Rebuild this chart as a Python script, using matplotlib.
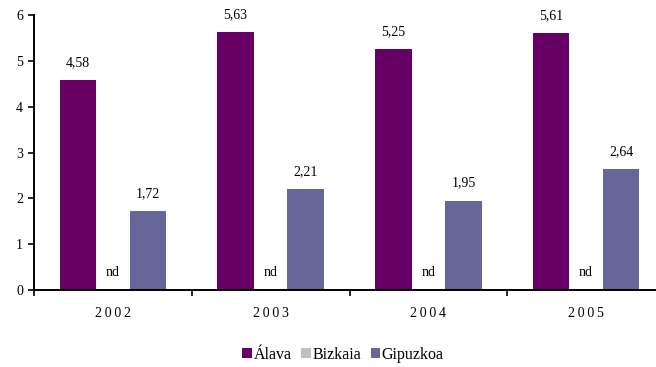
import matplotlib
matplotlib.use("Agg")
import matplotlib.pyplot as plt
import numpy as np

years = ["2002", "2003", "2004", "2005"]
alava = [4.58, 5.63, 5.25, 5.61]
bizkaia = [0, 0, 0, 0]
gipuzkoa = [1.72, 2.21, 1.95, 2.64]
alava_labels = ["4,58", "5,63", "5,25", "5,61"]
gipuzkoa_labels = ["1,72", "2,21", "1,95", "2,64"]
bizkaia_labels = ["nd", "nd", "nd", "nd"]
series_names = ["Álava", "Bizkaia", "Gipuzkoa"]
colors = ["#660066", "#C0C0C0", "#666699"]

plt.rcParams['font.family'] = ['Liberation Serif', 'DejaVu Serif']

fig = plt.figure(figsize=(6.56, 3.67), dpi=100)
ax = fig.add_axes([34/656, 77/367, 631/656, 275/367])

x = np.arange(len(years))
w = 0.232
off = 0.222
b1 = ax.bar(x - off, alava, w, color=colors[0], label=series_names[0])
b2 = ax.bar(x, bizkaia, w, color=colors[1], label=series_names[1])
b3 = ax.bar(x + off, gipuzkoa, w, color=colors[2], label=series_names[2])

fs = 10
for i in range(len(years)):
    ax.text(x[i] - off, alava[i] + 0.24, alava_labels[i], ha='center', va='bottom', fontsize=fs)
    ax.text(x[i] + off, gipuzkoa[i] + 0.24, gipuzkoa_labels[i], ha='center', va='bottom', fontsize=fs)
    ax.text(x[i], bizkaia[i] + 0.24, bizkaia_labels[i], ha='center', va='bottom', fontsize=fs)

ax.set_xlim(-0.5, len(years) - 0.5)
ax.set_ylim(0, 6)
ax.set_yticks(range(0, 7))
ax.set_yticklabels([str(v) for v in range(0, 7)], fontsize=fs)
ax.set_xticks(x)
ax.set_xticklabels(["\u2009".join(y) for y in years], fontsize=fs)
ax.tick_params(axis='x', length=0, pad=12)
ax.set_xticks(np.arange(-0.5, len(years) + 0.5, 1.0), minor=True)
ax.tick_params(axis='x', which='minor', length=4, direction='out', color='black', width=1.2)
ax.tick_params(axis='y', length=4, direction='out', pad=4, width=1.2)
for s in ['top', 'right']:
    ax.spines[s].set_visible(False)
for s in ['left', 'bottom']:
    ax.spines[s].set_color('black')
    ax.spines[s].set_linewidth(1.4)

leg = fig.legend(handles=[b1, b2, b3], labels=series_names, loc='center',
                 bbox_to_anchor=(343/656, 1 - 355/367), ncol=3, frameon=False,
                 fontsize=11.5, handlelength=0.6, handleheight=0.6, handletextpad=0.1,
                 columnspacing=0.6)

fig.savefig("out.png", dpi=100)
